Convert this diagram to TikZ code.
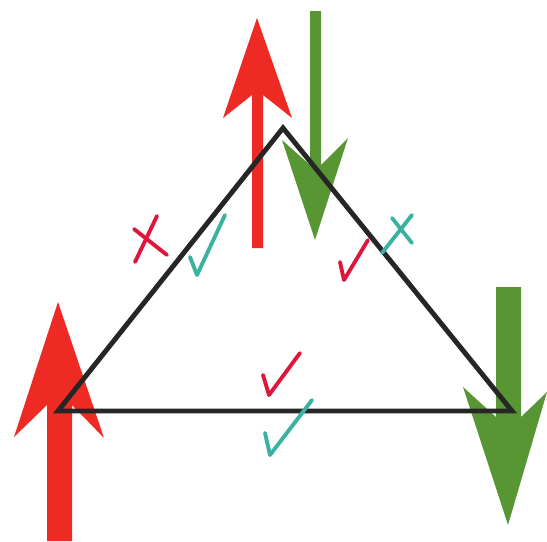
\documentclass[tikz,border=0pt]{standalone}
\definecolor{spinred}{RGB}{238,42,36}
\definecolor{spingreen}{RGB}{88,150,52}
\definecolor{inkred}{RGB}{222,22,60}
\definecolor{inkteal}{RGB}{58,178,160}
\tikzset{
  edge/.style={line width=2.8pt,draw=black!85,line join=miter},
  mark red/.style={line width=2.2pt,draw=inkred,line cap=round,line join=round},
  mark teal/.style={line width=2.2pt,draw=inkteal,line cap=round,line join=round}
}
\begin{document}
\begin{tikzpicture}[x=0.02cm,y=-0.02cm]
\useasboundingbox (0,0) rectangle (547,541);
% Spin arrows
\fill[spinred] (257,18) -- (292,118) -- (263,95) -- (263,248) -- (252,248) -- (252,95) -- (223,118) -- cycle;
\fill[spingreen] (310,11) -- (321,11) -- (321,165) -- (348,138) -- (315,240) -- (282,140) -- (310,165) -- cycle;
\fill[spinred] (58,302) -- (104,438) -- (72,405) -- (72,541) -- (47,541) -- (47,405) -- (14,437) -- cycle;
\fill[spingreen] (496,287) -- (521,287) -- (521,417) -- (547,392) -- (508,525) -- (463,387) -- (496,417) -- cycle;
% Triangle
\coordinate (top) at (283,128);
\coordinate (left) at (58,411);
\coordinate (right) at (512,411);
\draw[edge] (top) -- (left) -- (right) -- cycle;
% Marks on the edges
\draw[mark red] (157,216) -- (135,262);
\draw[mark red] (134,229) -- (167,255);
\draw[mark teal] (190,257) -- (197,275) -- (225,215);
\draw[mark red] (340,262) -- (344,280) -- (368,240);
\draw[mark teal] (382,253) -- (412,215);
\draw[mark teal] (392,218) -- (412,243);
\draw[mark red] (263,375) -- (269,395) -- (300,353);
\draw[mark teal] (265,433) -- (270,455) -- (312,400);
\end{tikzpicture}
\end{document}
